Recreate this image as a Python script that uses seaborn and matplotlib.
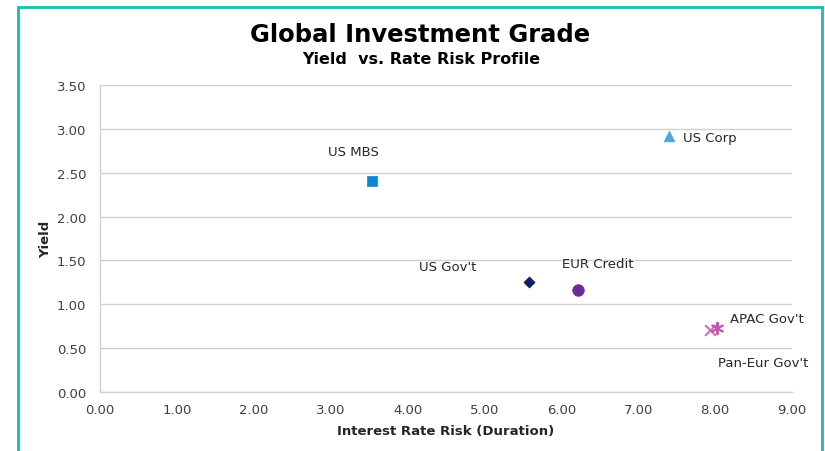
import matplotlib
matplotlib.use("Agg")
import matplotlib.pyplot as plt
import seaborn as sns
import pandas as pd
from matplotlib.patches import Rectangle

names = ["US MBS", "US Corp", "US Gov't", "EUR Credit", "Pan-Eur Gov't", "APAC Gov't"]
duration = [3.54, 7.40, 5.58, 6.22, 7.93, 8.02]
yields = [2.40, 2.92, 1.25, 1.16, 0.71, 0.73]
colors = ["#0A86D8", "#4AA8DE", "#0B1F6B", "#6A2C9A", "#D263B5", "#C457AE"]
markers = ["s", "^", "D", "o", "x", (6, 2, 0)]
sizes = [60, 60, 32, 70, 60, 70]
x_ticks = [0, 1, 2, 3, 4, 5, 6, 7, 8, 9]
y_ticks = [0, 0.5, 1.0, 1.5, 2.0, 2.5, 3.0, 3.5]

df = pd.DataFrame({"name": names, "duration": duration, "yield": yields})

sns.set_theme(style="white")
plt.rcParams["font.family"] = ["DejaVu Sans"]

fig = plt.figure(figsize=(8.25, 4.52), dpi=100)
ax = fig.add_axes([100/825, 1-393/452, 692/825, 307/452])

for i, row in df.iterrows():
    sub = df.iloc[[i]]
    filled = markers[i] not in ("x",) and not isinstance(markers[i], tuple)
    if filled:
        sns.scatterplot(data=sub, x="duration", y="yield", marker=markers[i],
                        color=colors[i], s=sizes[i], edgecolor=colors[i], linewidth=0.5,
                        ax=ax, zorder=3)
    else:
        sns.scatterplot(data=sub, x="duration", y="yield", marker=markers[i],
                        color=colors[i], s=sizes[i], linewidth=1.4, ax=ax, zorder=3)

# labels (offsets in points)
label_pos = {
    "US MBS": (-32, 19, "left"),
    "US Corp": (10, -3.5, "left"),
    "US Gov't": (-79, 9, "left"),
    "EUR Credit": (-12, 17, "left"),
    "Pan-Eur Gov't": (6, -26, "left"),
    "APAC Gov't": (9.5, 4, "left"),
}
for n, x, y in zip(names, duration, yields):
    dx, dy, ha = label_pos[n]
    ax.annotate(n, (x, y), xytext=(dx, dy), textcoords="offset points",
                ha=ha, va="baseline", fontsize=9.5, color="#262626")

ax.set_xlim(0, 9)
ax.set_ylim(0, 3.5)
ax.set_xticks(x_ticks)
ax.set_yticks(y_ticks)
ax.set_xticklabels([f"{v:.2f}" for v in x_ticks], fontsize=9.5, color="#404040")
ax.set_yticklabels([f"{v:.2f}" for v in y_ticks], fontsize=9.5, color="#404040")
ax.tick_params(axis="both", length=0, pad=10)
ax.tick_params(axis="x", pad=8)
ax.yaxis.grid(True, color="#D0D0D0", linewidth=1)
ax.xaxis.grid(False)
for s in ["top", "right"]:
    ax.spines[s].set_visible(False)
for s in ["left", "bottom"]:
    ax.spines[s].set_color("#D0D0D0")
    ax.spines[s].set_linewidth(1)

ax.set_xlabel("Interest Rate Risk (Duration)", fontsize=9.5, fontweight="bold", labelpad=6)
ax.set_ylabel("Yield", fontsize=9.5, fontweight="bold", labelpad=3)

fig.text(420/825, 1-35/452, "Global Investment Grade", ha="center", va="center",
         fontsize=17.5, fontweight="bold", color="black")
fig.text(421/825, 1-59/452, "Yield  vs. Rate Risk Profile", ha="center", va="center",
         fontsize=11.5, fontweight="bold", color="black")

border = Rectangle((17.5/825, -0.1), (822-17.5)/825, 1.1 - 8/452, transform=fig.transFigure,
                   fill=False, edgecolor="#12BFB2", linewidth=2, clip_on=False)
fig.patches.append(border)

fig.savefig("out.png", dpi=100)
